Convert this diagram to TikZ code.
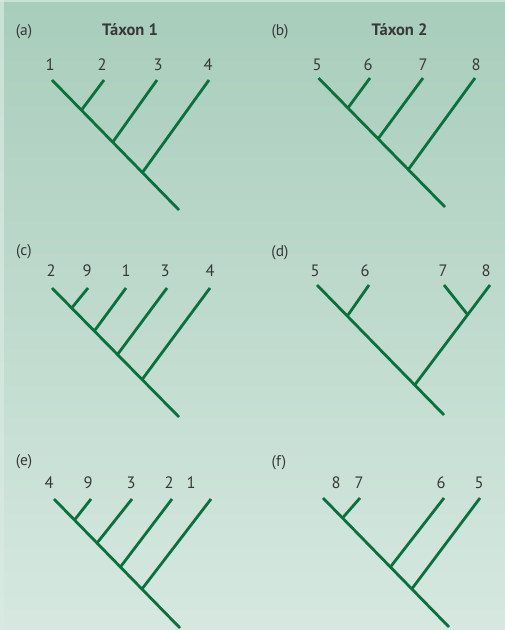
\documentclass[tikz,border=0pt]{standalone}
\usepackage{fontspec}
\setmainfont{PT Sans}
\definecolor{bgtop}{HTML}{A8CDBB}
\definecolor{bgbot}{HTML}{D6E8E0}
\definecolor{edge}{HTML}{D9EAE2}
\definecolor{branch}{HTML}{0A703C}
\definecolor{txt}{HTML}{383838}
\tikzset{
  br/.style={draw=branch, line width=2.8pt, line cap=butt},
  tip/.style={inner sep=0pt, text=txt, font=\fontsize{16.5}{18}\selectfont},
  tag/.style={inner sep=0pt, text=txt, font=\fontsize{15.5}{17}\selectfont},
  ttl/.style={inner sep=0pt, text=txt, font=\fontsize{16.5}{18}\selectfont\bfseries},
}
\begin{document}
\begin{tikzpicture}[x=1pt,y=-1pt]
\useasboundingbox (0,0) rectangle (505,630);
\fill[top color=bgtop, bottom color=bgbot] (0,0) rectangle (505,630);
\fill[edge, opacity=0.7] (0,0) rectangle (505,2);
\fill[edge, opacity=0.7] (0,0) rectangle (3.5,630);

% ---------- (a) ----------
\node[tag] (la) at (24,32) {(a)};
\node[ttl] (t1) at (130,30) {Táxon 1};
\node[tip] (a1) at (50,65) {1};
\node[tip] (a2) at (102,65) {2};
\node[tip] (a3) at (158,65) {3};
\node[tip] (a4) at (208,65) {4};
\coordinate (A1) at (52,80);
\coordinate (A2) at (104,80);
\coordinate (A3) at (157,80);
\coordinate (A4) at (209,80);
\coordinate (AR) at (179,210);
\coordinate (An1) at (81.5,110);
\coordinate (An2) at (112.8,142);
\coordinate (An3) at (142.4,172.5);
\draw[br] (A1) -- (AR);
\draw[br] (An1) -- (A2);
\draw[br] (An2) -- (A3);
\draw[br] (An3) -- (A4);

% ---------- (b) ----------
\node[tag] (lb) at (280,32) {(b)};
\node[ttl] (t2) at (399.5,30) {Táxon 2};
\node[tip] (b5) at (317,65) {5};
\node[tip] (b6) at (368,65) {6};
\node[tip] (b7) at (423,65) {7};
\node[tip] (b8) at (476,65) {8};
\coordinate (B5) at (318.5,78);
\coordinate (B6) at (370,78);
\coordinate (B7) at (423,78);
\coordinate (B8) at (475,78);
\coordinate (BR) at (445,207);
\coordinate (Bn1) at (347.9,108);
\coordinate (Bn2) at (378.3,138.5);
\coordinate (Bn3) at (408.7,169);
\draw[br] (B5) -- (BR);
\draw[br] (Bn1) -- (B6);
\draw[br] (Bn2) -- (B7);
\draw[br] (Bn3) -- (B8);

% ---------- (c) ----------
\node[tag] (lc) at (24,252) {(c)};
\node[tip] (c2) at (51,271) {2};
\node[tip] (c9) at (87,271) {9};
\node[tip] (c1) at (126,271) {1};
\node[tip] (c3) at (165,271) {3};
\node[tip] (c4) at (210,271) {4};
\coordinate (C2) at (52,288);
\coordinate (C9) at (88,288);
\coordinate (C1) at (126,288);
\coordinate (C3) at (167,288);
\coordinate (C4) at (210,288);
\coordinate (CR) at (179,417);
\coordinate (Cn1) at (71.7,308);
\coordinate (Cn2) at (94.3,331);
\coordinate (Cn3) at (117.5,354.5);
\coordinate (Cn4) at (142.1,379.5);
\draw[br] (C2) -- (CR);
\draw[br] (Cn1) -- (C9);
\draw[br] (Cn2) -- (C1);
\draw[br] (Cn3) -- (C3);
\draw[br] (Cn4) -- (C4);

% ---------- (d) ----------
\node[tag] (ld) at (280,253) {(d)};
\node[tip] (d5) at (315,271) {5};
\node[tip] (d6) at (365,271) {6};
\node[tip] (d7) at (443,271) {7};
\node[tip] (d8) at (486,271) {8};
\coordinate (D5) at (317,285);
\coordinate (D6) at (369,285);
\coordinate (D7) at (444,285);
\coordinate (D8) at (490,285);
\coordinate (DR) at (444,415);
\coordinate (Dn1) at (347.3,316);
\coordinate (Dn2) at (467.5,314.5);
\coordinate (Dn3) at (414.7,385);
\draw[br] (D5) -- (DR);
\draw[br] (Dn1) -- (D6);
\draw[br] (Dn3) -- (D8);
\draw[br] (Dn2) -- (D7);

% ---------- (e) ----------
\node[tag] (le) at (24,462) {(e)};
\node[tip] (e4) at (49,483) {4};
\node[tip] (e9) at (88,483) {9};
\node[tip] (e3) at (131,483) {3};
\node[tip] (e2) at (169,483) {2};
\node[tip] (e1) at (191,483) {1};
\coordinate (E4) at (54,499);
\coordinate (E9) at (91,499);
\coordinate (E3) at (132,499);
\coordinate (E2) at (172,499);
\coordinate (E1) at (211,499);
\coordinate (ER) at (180,628);
\coordinate (En1) at (74.5,520);
\coordinate (En2) at (97,543);
\coordinate (En3) at (120.4,567);
\coordinate (En4) at (142,589);
\draw[br] (E4) -- (ER);
\draw[br] (En1) -- (E9);
\draw[br] (En2) -- (E3);
\draw[br] (En3) -- (E2);
\draw[br] (En4) -- (E1);

% ---------- (f) ----------
\node[tag] (lf) at (279,463) {(f)};
\node[tip] (f8) at (336,483) {8};
\node[tip] (f7) at (359,483) {7};
\node[tip] (f6) at (441,483) {6};
\node[tip] (f5) at (479,483) {5};
\coordinate (F8) at (323,498);
\coordinate (F7) at (360,498);
\coordinate (F6) at (444,498);
\coordinate (F5) at (480,498);
\coordinate (FR) at (449,627);
\coordinate (Fn1) at (342.5,518);
\coordinate (Fn2) at (390.4,567);
\coordinate (Fn3) at (411.8,589);
\draw[br] (F8) -- (FR);
\draw[br] (Fn1) -- (F7);
\draw[br] (Fn2) -- (F6);
\draw[br] (Fn3) -- (F5);
\end{tikzpicture}
\end{document}
